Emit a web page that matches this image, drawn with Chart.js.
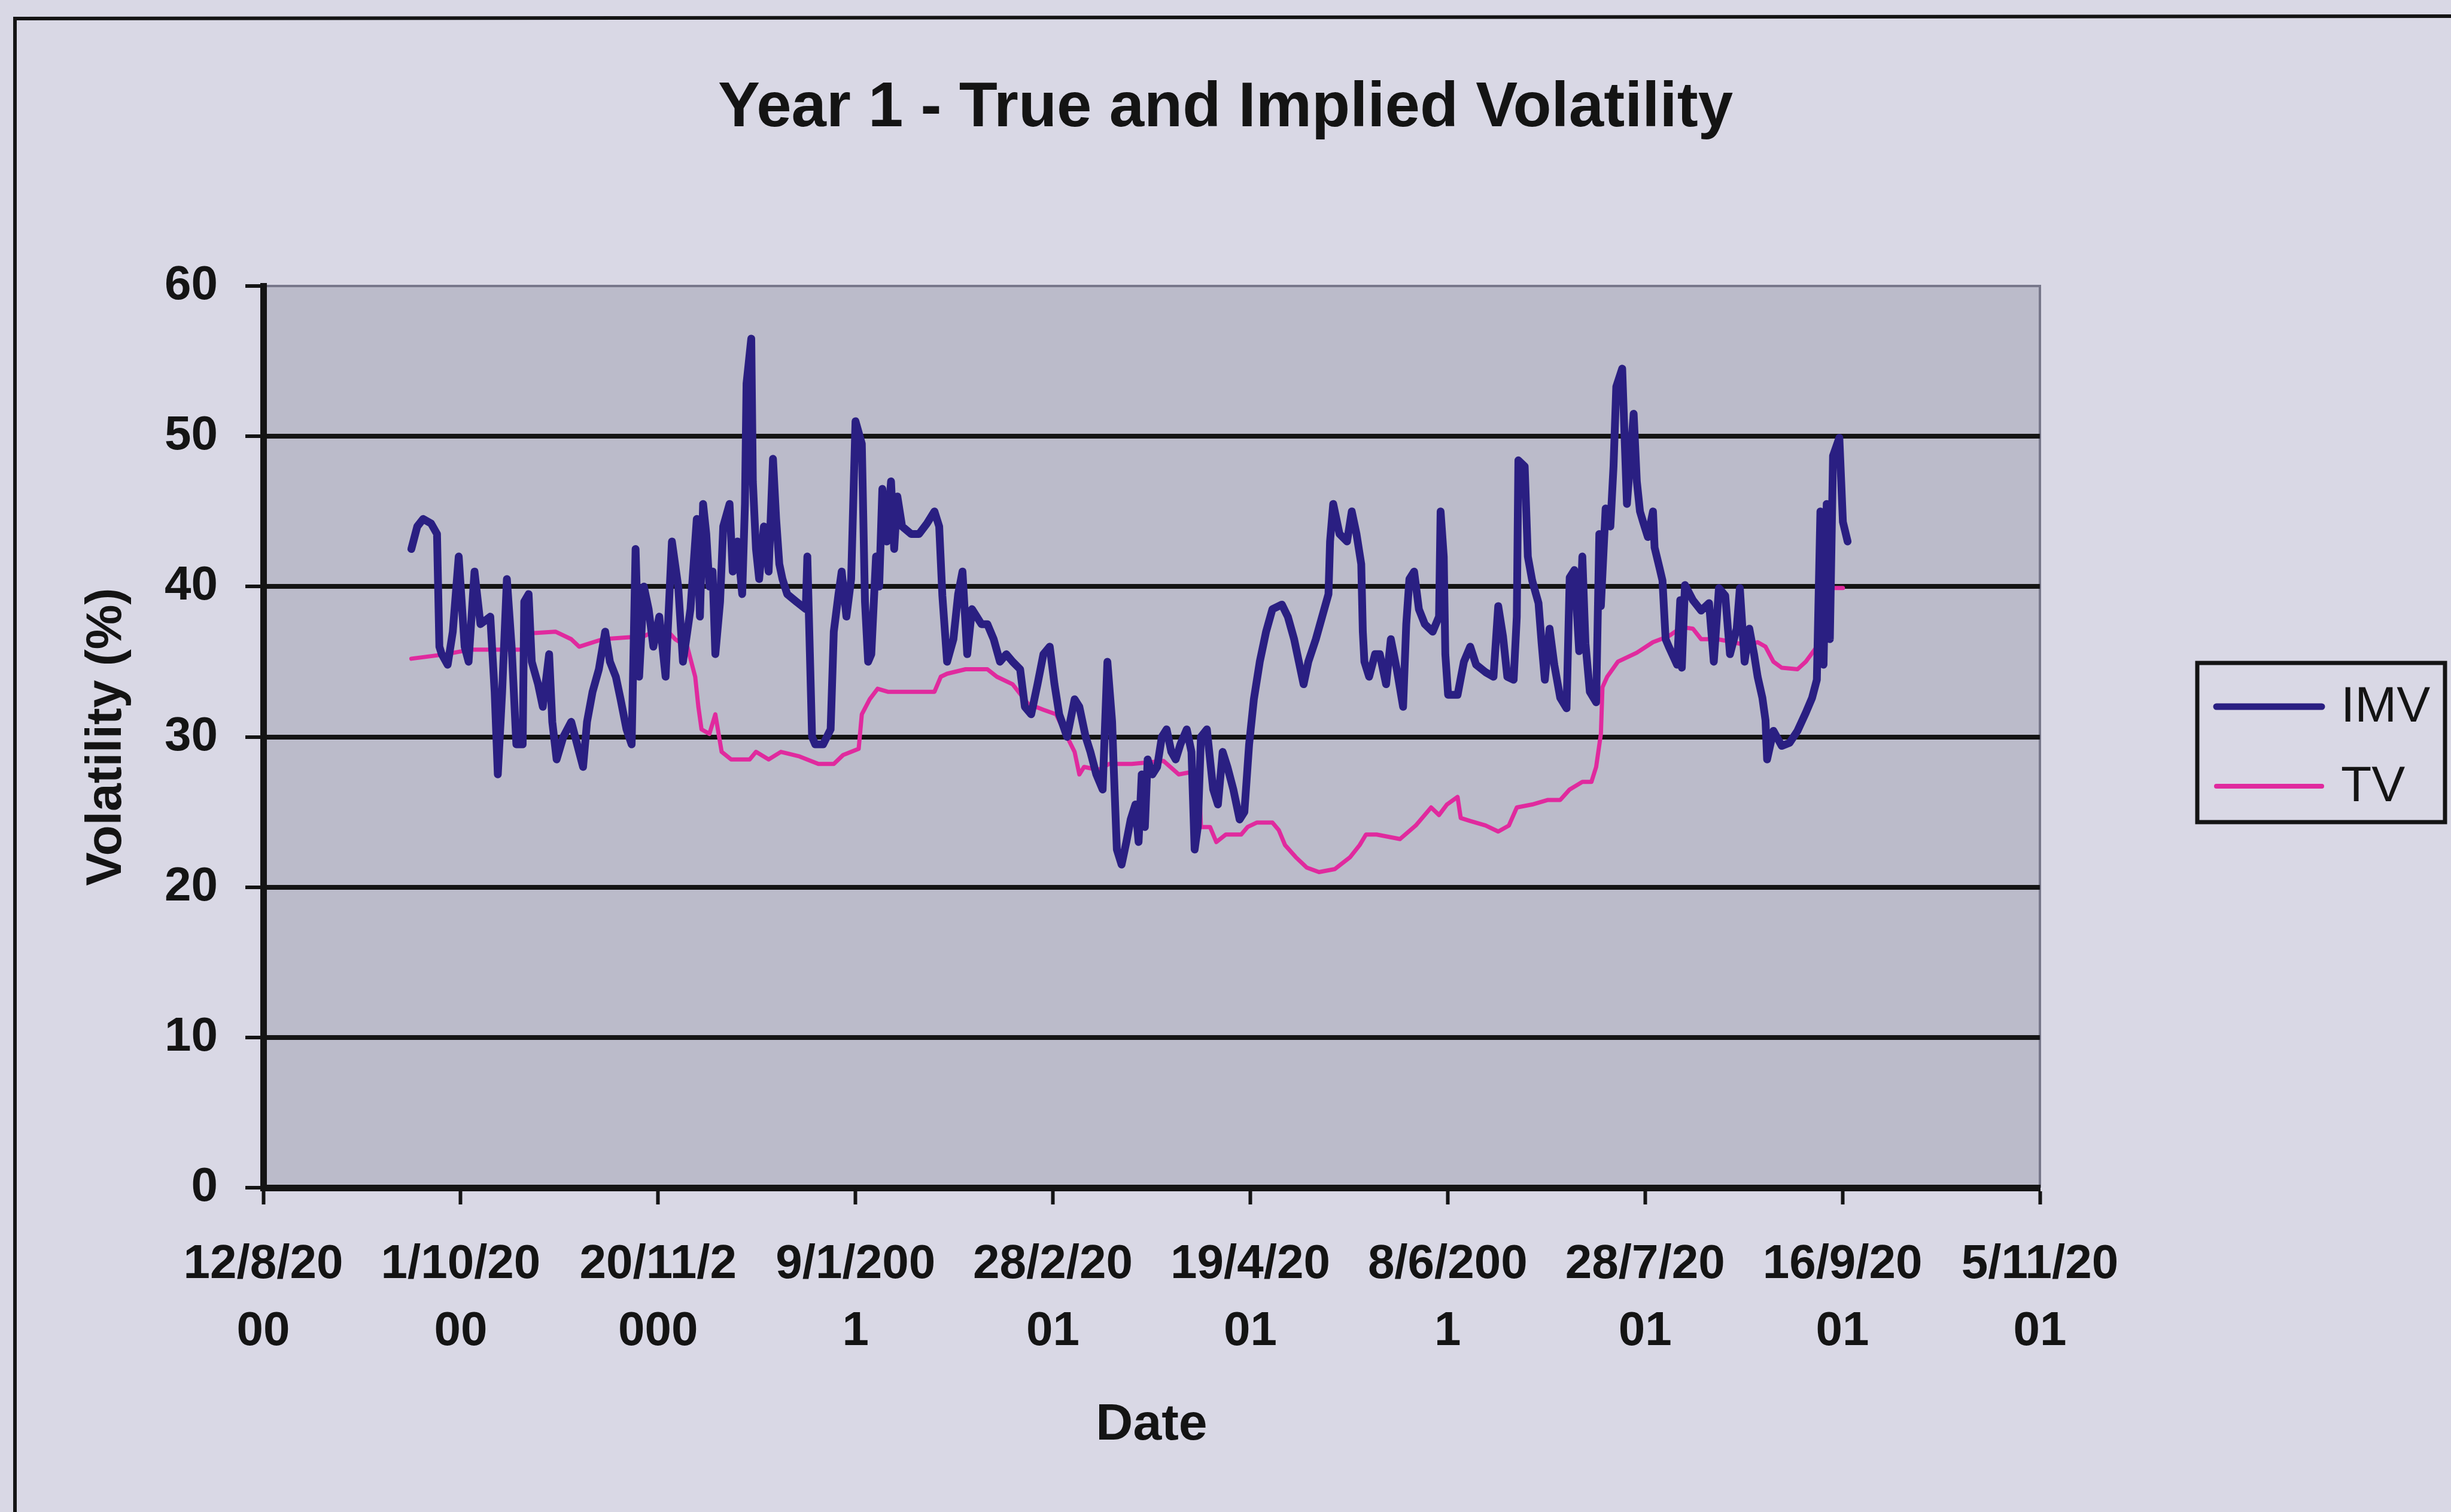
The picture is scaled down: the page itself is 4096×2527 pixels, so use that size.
<!DOCTYPE html>
<html>
<head>
<meta charset="utf-8">
<title>Year 1 - True and Implied Volatility</title>
<script src="https://cdn.jsdelivr.net/npm/chart.js@4/dist/chart.umd.min.js"></script>
<style>
  html, body { margin: 0; padding: 0; background: #d9d8e5; }
  canvas { display: block; }
</style>
</head>
<body>
<canvas id="vol" width="4096" height="2527"></canvas>
<script>
// Axis runs in days counted from 12/8/2000; ticks every 50 days.
const tickLabels = [
  ['12/8/20', '00'], ['1/10/20', '00'], ['20/11/2', '000'], ['9/1/200', '1'],
  ['28/2/20', '01'], ['19/4/20', '01'], ['8/6/200', '1'], ['28/7/20', '01'],
  ['16/9/20', '01'], ['5/11/20', '01']
];

// Implied volatility (IMV): observation day and value (%)
const imvDays = [
  37.5, 39, 40.5, 42.5, 44, 44.6, 45.2, 46.7, 48, 49.5, 51, 52, 53.5, 55, 57.5, 58.6, 59.4, 60.5, 61.7, 62.9,
  64.1, 65.7, 66.1, 67.2, 68, 69.6, 70.8, 72.4, 73.2, 74.3, 76, 78, 79, 81, 82, 83.4, 85, 86.6, 87.8, 89.3,
  90.5, 92, 93.3, 94.3, 95.2,
  96.4, 97.6, 98.8, 100.3, 101.9, 103.5, 105.1, 106.3, 107.4, 108.2, 109.8, 110.6, 111.4, 112.2, 113, 113.8,
  114.5, 115.7, 116.5, 118.1, 118.9, 120.1, 121.3, 122, 122.4, 123.6, 124, 124.8, 125.6, 126.8, 128, 129.1,
  129.9, 130.7, 131.5, 132.7, 135, 137.4, 137.8, 139, 139.8, 141.8, 143.7, 144.5, 145.7, 146.5, 147.7, 148.9,
  150, 151.6, 152.4, 153.2, 154, 155.2, 156, 156.8, 157.9,
  159, 159.8, 160.6, 161.8, 164.1, 166.1, 168.1, 170, 171.2, 172, 173.2, 174.8, 176, 177.1, 178.3, 179.5,
  180.7, 181.9, 183.4, 185, 186.6, 188.2, 189.8, 191.7, 192.9, 194.5, 196.1, 197.6, 199.2, 200.4, 201.6,
  203.6, 205.5, 206.7, 208.3, 209.5, 211, 212.6, 213.8, 215, 215.4, 216.2, 217.4, 218.6, 219.7,
  220.9, 221.7, 222.5, 223.3, 224, 225.2, 226.4, 227.6, 228.8, 230, 231.1, 232.3, 233.9, 235.1, 235.9, 236.7,
  237.5, 239, 240.6, 241.8, 243, 244.2, 245.7, 247.3, 248.5, 249.7, 250.9, 252.4, 254, 255.6, 258, 259.5,
  261.1, 262.3, 263.5, 264.7, 266.6, 268.2, 269.8, 270.2, 271, 272.6, 274.5, 275.7, 276.9, 278.1, 278.5,
  278.9, 280.1, 281.6,
  282.8, 284.4, 285.6, 287.1, 288.7, 289.5, 290.3, 291.5, 292.7, 294.2, 296.2, 297.8, 298.2, 299, 299.4,
  300.1, 302.5, 304.1, 305.7, 307.2, 309.6, 311.6, 312.8, 314, 315.1, 316.7, 317.5, 317.9, 319.5, 320.3,
  321.4, 323, 323.8, 324.6, 325.8, 327, 328.5, 330.1, 330.9, 332.1, 333.3, 334.1, 334.9, 336, 337.6, 338.4,
  338.8, 340, 341.2, 342, 342.7,
  344.2, 345.4, 347.1, 347.9, 348.7, 349.5, 350.7, 352, 352.4, 353.6, 354.4, 355.2, 356, 358.1, 358.9,
  359.3, 360.1, 362.1, 364.2, 366.2, 367.4, 368.7, 370.3, 371.5, 373.2, 374, 375.2, 376.4, 377.6, 378.5,
  379.7, 380.5, 380.9, 382.5, 384.6, 386.6, 388.6, 390.7, 392.3, 393.5, 394.4, 395.2, 396, 396.8, 397.6,
  399.2, 400.1, 401.3
];
const imvValues = [
  42.5, 44, 44.5, 44.2, 43.5, 36, 35.5, 34.8, 37, 42, 36, 35, 41, 37.5, 38, 33, 27.5, 33, 40.5, 36,
  29.5, 29.5, 39, 39.5, 35, 33.5, 32, 35.5, 31, 28.5, 30, 31, 30, 28, 31, 33, 34.5, 37, 35, 34,
  32.5, 30.5, 29.5, 42.5, 34,
  40, 38.5, 36, 38, 34, 43, 40, 35, 37, 38.5, 44.5, 38, 45.5, 43.5, 40, 41,
  35.5, 39, 44, 45.5, 41, 43, 39.5, 45.5, 53.5, 56.5, 47, 42.5, 40.5, 44, 41, 48.5,
  44.5, 41.5, 40.5, 39.5, 39, 38.5, 42, 30, 29.5, 29.5, 30.5, 37, 39.5, 41, 38, 40.5,
  51, 49.5, 39, 35, 35.5, 42, 40, 46.5, 43,
  47, 42.5, 46, 44, 43.5, 43.5, 44.2, 45, 44, 39.4, 35, 36.5, 39.5, 41, 35.5, 38.5,
  38, 37.5, 37.5, 36.5, 35, 35.5, 35, 34.5, 32, 31.5, 33.5, 35.5, 36, 33.5, 31.5,
  30, 32.5, 32, 30, 29, 27.5, 26.5, 35, 31, 28, 22.5, 21.5, 23, 24.5,
  25.5, 23, 27.5, 24, 28.5, 27.5, 28, 30, 30.5, 29, 28.5, 29.5, 30.5, 29, 22.5, 24,
  30, 30.5, 26.5, 25.5, 29, 28, 26.5, 24.5, 25, 29.5, 32.5, 35, 37, 38.5, 38.8, 38,
  36.5, 35, 33.5, 35, 36.5, 38, 39.5, 43, 45.5, 43.5, 43, 45, 43.5, 41.5, 37,
  35, 34, 35.5,
  35.5, 33.5, 36.5, 34.5, 32, 37.5, 40.5, 41, 38.5, 37.5, 37, 38, 45, 42, 35.5,
  32.8, 32.8, 35, 36, 34.8, 34.3, 34, 38.7, 36.7, 34, 33.8, 38, 48.4, 48, 42,
  40.4, 38.9, 36.2, 33.8, 37.2, 34.8, 32.6, 31.9, 40.6, 41.1, 35.7, 42, 36.2, 33, 32.3, 43.5,
  38.7, 45.2, 44, 48, 53.3,
  54.5, 45.5, 51.5, 47, 45, 44.3, 43.3, 45, 42.6, 41.3, 40.4, 36.5, 36, 34.8, 39.1,
  34.6, 40.1, 39.1, 38.4, 38.9, 35, 39.9, 39.4, 35.5, 37.2, 39.9, 35, 37.2, 35.5, 34,
  32.6, 31.1, 28.5, 30.4, 29.4, 29.6, 30.4, 31.6, 32.6, 33.8, 45, 34.8, 45.5, 36.5, 48.7,
  49.9, 44.3, 43
];

// True volatility (TV): observation day and value (%)
const tvDays = [
  37.5, 46.3, 52.3, 66, 68, 74, 78, 80, 86, 96.4, 101.5, 104.3, 107.4, 109.4, 110.2, 111, 113, 114.5,
  116.1, 118.5, 123.2, 124.8, 128, 131.1, 135.8, 140.6, 144.5, 146.9, 150.8, 151.6, 153.6, 155.6, 158.2,
  170, 171.6, 173.2, 177.9, 183.4, 185.8, 189.8, 193.7, 197.6, 200.8, 203.6, 205.5, 206.7, 207.9, 211.5,
  214.2, 220, 228, 231.9, 235.9, 237.1, 237.5, 239.8, 241.4, 243.8, 247.7, 249.3, 251.7, 255.6, 257.2,
  258.8, 261.5, 264.3, 267.4, 271.4, 275.3, 277.7, 279.3, 282, 287.9, 291.9, 295.8, 297.8, 299.8, 302.5,
  303.3, 305.7, 309.6, 312.8, 315.5, 317.5, 321.4, 325.4, 328.5, 330.9, 334.1, 336.4, 337.6, 338.8, 339.2,
  340.4, 343.1, 347.9, 352, 356, 359.3, 362.1, 364.2, 368.3, 372.3, 375.6, 378.5, 380.5, 382.5, 384.6,
  388.6, 390.7, 393.5, 394.4, 396.8, 400.1
];
const tvValues = [
  35.2, 35.5, 35.8, 35.8, 36.9, 37, 36.5, 36, 36.5, 36.7, 37.3, 36.5, 36, 34, 32, 30.5, 30.2, 31.5,
  29, 28.5, 28.5, 29, 28.5, 29, 28.7, 28.2, 28.2, 28.8, 29.2, 31.5, 32.5, 33.2, 33,
  33, 34, 34.2, 34.5, 34.5, 34, 33.5, 32.2, 31.8, 31.5, 30, 29, 27.5, 28, 27.8,
  28.2, 28.2, 28.4, 27.5, 27.7, 26.5, 24, 24, 23, 23.5, 23.5, 24, 24.3, 24.3, 23.8,
  22.8, 22, 21.3, 21, 21.2, 22, 22.8, 23.5, 23.5, 23.2, 24.1, 25.3, 24.8, 25.5, 26,
  24.6, 24.4, 24.1, 23.7, 24.1, 25.3, 25.5, 25.8, 25.8, 26.5, 27, 27, 28, 30.2, 33.3,
  34, 35, 35.6, 36.3, 36.7, 37.3, 37.2, 36.5, 36.5, 36.3, 36.1, 36.3, 36, 35, 34.6,
  34.5, 35, 36, 38.9, 39.9, 39.9
];

const seriesNames = ['IMV', 'TV'];
const seriesColors = ['#2a1f82', '#e02a9e'];
const seriesWidths = [13, 7];

const FONT = "'Liberation Sans', Arial, Helvetica, sans-serif";
const INK = '#141414';

// Page background, outer chart frame and grey plot area
const framePlugin = {
  id: 'frame',
  beforeDraw(chart) {
    const { ctx, chartArea: a, width, height } = chart;
    ctx.save();
    ctx.fillStyle = '#d9d8e5';
    ctx.fillRect(0, 0, width, height);
    ctx.strokeStyle = INK;
    ctx.lineWidth = 6;
    ctx.beginPath();
    ctx.moveTo(25, height + 10);
    ctx.lineTo(25, 31);
    ctx.lineTo(width + 10, 27);
    ctx.stroke();
    ctx.fillStyle = '#bbbbca';
    ctx.fillRect(a.left, a.top, a.right - a.left, a.bottom - a.top);
    ctx.strokeStyle = '#77778a';
    ctx.lineWidth = 4;
    ctx.beginPath();
    ctx.moveTo(a.left, a.top);
    ctx.lineTo(a.right, a.top);
    ctx.lineTo(a.right, a.bottom);
    ctx.stroke();
    ctx.restore();
  }
};

// Boxed legend to the right of the plot, built from the datasets
const boxLegendPlugin = {
  id: 'boxLegend',
  afterDraw(chart) {
    const { ctx } = chart;
    const box = { left: 3672, top: 1108, right: 4086, bottom: 1374 };
    ctx.save();
    ctx.strokeStyle = INK;
    ctx.lineWidth = 7;
    ctx.strokeRect(box.left, box.top, box.right - box.left, box.bottom - box.top);
    const rows = [1181, 1314];
    chart.data.datasets.forEach((ds, i) => {
      const y = rows[i];
      ctx.strokeStyle = ds.borderColor;
      ctx.lineWidth = i === 0 ? 11 : 8;
      ctx.lineCap = 'round';
      ctx.beginPath();
      ctx.moveTo(3704, y);
      ctx.lineTo(3880, y);
      ctx.stroke();
      ctx.fillStyle = INK;
      ctx.font = `84px ${FONT}`;
      ctx.textBaseline = 'middle';
      ctx.textAlign = 'left';
      ctx.fillText(ds.label, 3912, y + 2);
    });
    ctx.restore();
  }
};

const toPoints = (days, values) => days.map((d, i) => ({ x: d, y: values[i] }));

new Chart(document.getElementById('vol'), {
  type: 'line',
  data: {
    datasets: [
      {
        label: seriesNames[0],
        data: toPoints(imvDays, imvValues),
        borderColor: seriesColors[0],
        borderWidth: seriesWidths[0],
        pointRadius: 0,
        tension: 0,
        borderJoinStyle: 'round',
        borderCapStyle: 'round'
      },
      {
        label: seriesNames[1],
        data: toPoints(tvDays, tvValues),
        borderColor: seriesColors[1],
        borderWidth: seriesWidths[1],
        pointRadius: 0,
        tension: 0,
        borderJoinStyle: 'round',
        borderCapStyle: 'round'
      }
    ]
  },
  options: {
    responsive: false,
    animation: false,
    devicePixelRatio: 1,
    layout: { padding: 0 },
    plugins: {
      legend: { display: false },
      tooltip: { enabled: false },
      title: {
        display: true,
        text: 'Year 1 - True and Implied Volatility',
        color: INK,
        font: { family: FONT, size: 105, weight: 'bold' },
        padding: { top: 119, bottom: 233 }
      }
    },
    scales: {
      x: {
        type: 'linear',
        position: 'bottom',
        min: 0,
        max: 450,
        afterFit(scale) { scale.height = 542; },
        ticks: {
          stepSize: 50,
          autoSkip: false,
          maxRotation: 0,
          minRotation: 0,
          padding: 45,
          color: INK,
          font: { family: FONT, size: 80, weight: 'bold', lineHeight: 1.4 },
          callback: (v) => tickLabels[Math.round(v / 50)]
        },
        grid: {
          drawOnChartArea: false,
          drawTicks: true,
          tickLength: 28,
          tickColor: INK,
          tickWidth: 6
        },
        border: { display: true, color: INK, width: 11 },
        title: {
          display: true,
          text: 'Date',
          color: INK,
          font: { family: FONT, size: 86, weight: 'bold' },
          padding: { top: 0, bottom: 93 }
        }
      },
      y: {
        type: 'linear',
        position: 'left',
        min: 0,
        max: 60,
        afterFit(scale) { scale.width = 440; },
        ticks: {
          stepSize: 10,
          padding: 46,
          color: INK,
          font: { family: FONT, size: 80, weight: 'bold' }
        },
        grid: {
          drawTicks: true,
          tickLength: 30,
          tickColor: INK,
          tickWidth: 6,
          color: (c) => (c.tick && c.tick.value === 60 ? 'rgba(0,0,0,0)' : INK),
          lineWidth: (c) => (c.tick && c.tick.value === 60 ? 0 : 8)
        },
        border: { display: true, color: INK, width: 11 },
        title: {
          display: true,
          text: 'Volatility (%)',
          color: INK,
          font: { family: FONT, size: 84, weight: 'bold' },
          padding: { top: 128, bottom: 0 }
        }
      },
      // empty right-hand band that holds the boxed legend
      legendBand: {
        type: 'linear',
        position: 'right',
        display: true,
        afterFit(scale) { scale.width = 687; },
        ticks: { display: false },
        grid: { display: false, drawTicks: false },
        border: { display: false }
      }
    }
  },
  plugins: [framePlugin, boxLegendPlugin]
});
</script>
</body>
</html>
